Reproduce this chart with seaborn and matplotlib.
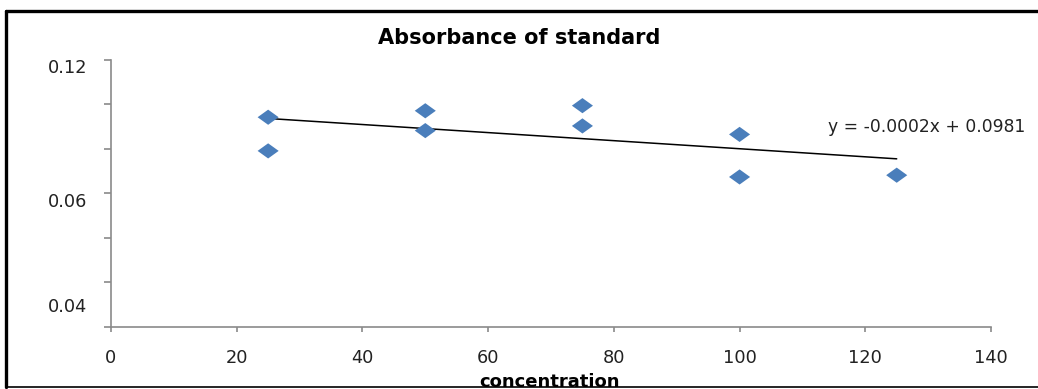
import numpy as np
import pandas as pd
import matplotlib
matplotlib.use('Agg')
import matplotlib.pyplot as plt
from matplotlib.lines import Line2D
from matplotlib.path import Path
import seaborn as sns

# Data
concentration = [25, 25, 50, 50, 75, 75, 100, 100, 125]
absorbance = [0.0941, 0.0790, 0.0970, 0.0881, 0.0993, 0.0902, 0.0864, 0.0673, 0.0681]
equation_text = 'y = -0.0002x + 0.0981'
y_label_values = [0.0099, 0.0569, 0.1169]
y_label_texts = ['0.04', '0.06', '0.12']
x_ticks = [0, 20, 40, 60, 80, 100, 120, 140]

df = pd.DataFrame({'concentration': concentration, 'absorbance': absorbance})

sns.set_style('white')
plt.rcParams['font.family'] = ['DejaVu Sans']

fig = plt.figure(figsize=(10.38, 3.89), dpi=100)
ax = fig.add_axes([111 / 1038, 1 - 327 / 389, 880 / 1038, 267.5 / 389])

# wide flat diamond like the Excel marker
diamond = Path([(-1, 0), (0, 0.72), (1, 0), (0, -0.72), (-1, 0)])
sns.scatterplot(data=df, x='concentration', y='absorbance', marker=diamond,
                s=230, color='#4a7ebb', edgecolor='none', ax=ax, zorder=3)
sns.regplot(data=df, x='concentration', y='absorbance', scatter=False, ci=None,
            truncate=True, color='black', line_kws={'lw': 1.1}, ax=ax)

ax.text(114.1, 0.0897, equation_text, ha='left', va='center', fontsize=12.3, color='#222222')

ax.set_xlim(0, 140)
ax.set_ylim(0, 0.12)
ax.set_xticks(x_ticks)
ax.set_xticklabels([str(v) for v in x_ticks])
ax.set_yticks(np.arange(0, 0.121, 0.02))
ax.set_yticklabels([])
ax.set_yticks(y_label_values, minor=True)
ax.set_yticklabels(y_label_texts, minor=True)

for side in ['top', 'right']:
    ax.spines[side].set_visible(False)
for side in ['left', 'bottom']:
    ax.spines[side].set_color('#8a8a8a')
    ax.spines[side].set_linewidth(1.2)

ax.tick_params(axis='x', which='major', direction='out', length=3.6, width=1.2,
               color='#8a8a8a', labelsize=12.8, labelcolor='#222222', pad=12, bottom=True)
ax.tick_params(axis='y', which='major', direction='out', length=5, width=1.2,
               color='#8a8a8a', left=True)
ax.tick_params(axis='y', which='minor', length=0, labelsize=12.8,
               labelcolor='#222222', pad=17, left=True)

ax.set_xlabel('')
ax.set_ylabel('')

fig.text(0.5, 1 - 38 / 389, 'Absorbance of standard', ha='center', va='center',
         fontsize=15, fontweight='bold', color='black')
fig.text(550 / 1038, 1 - 382 / 389, 'concentration', ha='center', va='center',
         fontsize=13, fontweight='bold', color='black')

# outer frame of the cropped page
fig.add_artist(Line2D([6 / 1038, 1], [1 - 10.5 / 389] * 2, color='black', lw=2.4))
fig.add_artist(Line2D([6 / 1038] * 2, [1 - 10.5 / 389, 1 - 387 / 389], color='black', lw=2.4))
fig.add_artist(Line2D([6 / 1038, 1], [1 - 387 / 389] * 2, color='black', lw=1.2))

fig.savefig('out.png', dpi=100)
